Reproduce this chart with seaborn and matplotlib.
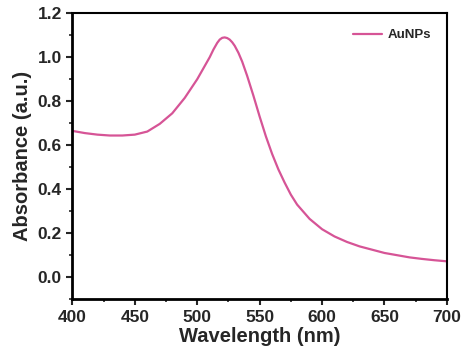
import numpy as np
import pandas as pd
import seaborn as sns
import matplotlib.pyplot as plt
from matplotlib.ticker import MultipleLocator

# UV-vis spectrum of AuNPs
wavelength = [400, 410, 420, 430, 440, 450, 460, 470, 480, 490, 500, 505, 510,
              513, 516, 518, 520, 522, 524, 526, 528, 530, 533, 536, 540, 545,
              550, 555, 560, 565, 570, 575, 580, 590, 600, 610, 620, 630, 640,
              650, 660, 670, 680, 690, 700]
absorbance = [0.665, 0.655, 0.648, 0.644, 0.644, 0.648, 0.662, 0.697, 0.745,
              0.815, 0.900, 0.950, 1.000, 1.035, 1.065, 1.080, 1.088, 1.090,
              1.087, 1.080, 1.068, 1.052, 1.020, 0.980, 0.915, 0.825, 0.730,
              0.640, 0.560, 0.490, 0.430, 0.375, 0.330, 0.265, 0.218, 0.185,
              0.160, 0.140, 0.125, 0.110, 0.100, 0.090, 0.083, 0.077, 0.072]

df = pd.DataFrame({"Wavelength": wavelength, "Absorbance": absorbance})

sns.set_style("ticks")
plt.rcParams['font.family'] = ['Liberation Sans', 'DejaVu Sans']
plt.rcParams['font.weight'] = 'bold'

fig, ax = plt.subplots(figsize=(4.67, 3.57), dpi=100)
sns.lineplot(data=df, x="Wavelength", y="Absorbance", color="#d65496",
             linewidth=1.6, label="AuNPs", ax=ax)

ax.set_xlim(400, 700)
ax.set_ylim(-0.1, 1.2)
ax.xaxis.set_major_locator(MultipleLocator(50))
ax.xaxis.set_minor_locator(MultipleLocator(25))
ax.yaxis.set_major_locator(MultipleLocator(0.2))
ax.yaxis.set_minor_locator(MultipleLocator(0.1))
ax.yaxis.set_major_formatter(plt.FormatStrFormatter("%.1f"))

ax.tick_params(which="major", direction="out", length=4, width=1.5,
               labelsize=12.5, top=False, right=False)
ax.tick_params(which="minor", direction="out", length=2.5, width=1.2,
               top=False, right=False)
for lab in ax.get_xticklabels() + ax.get_yticklabels():
    lab.set_fontweight("bold")

for side in ["left", "bottom"]:
    ax.spines[side].set_linewidth(2)
for side in ["top", "right"]:
    ax.spines[side].set_linewidth(1.5)
    ax.spines[side].set_visible(True)
for s in ax.spines.values():
    s.set_color("black")

ax.set_xlabel("Wavelength (nm)", fontsize=14.5, fontweight="bold", labelpad=2)
ax.set_ylabel("Absorbance (a.u.)", fontsize=14.5, fontweight="bold", labelpad=4)

leg = ax.legend(loc="upper right", frameon=False, fontsize=9.5,
                handlelength=2.2, handletextpad=0.4, borderaxespad=0.8)
for t in leg.get_texts():
    t.set_fontweight("bold")

fig.subplots_adjust(left=0.155, right=0.957, top=0.963, bottom=0.162)
fig.savefig("out.png", dpi=100)
